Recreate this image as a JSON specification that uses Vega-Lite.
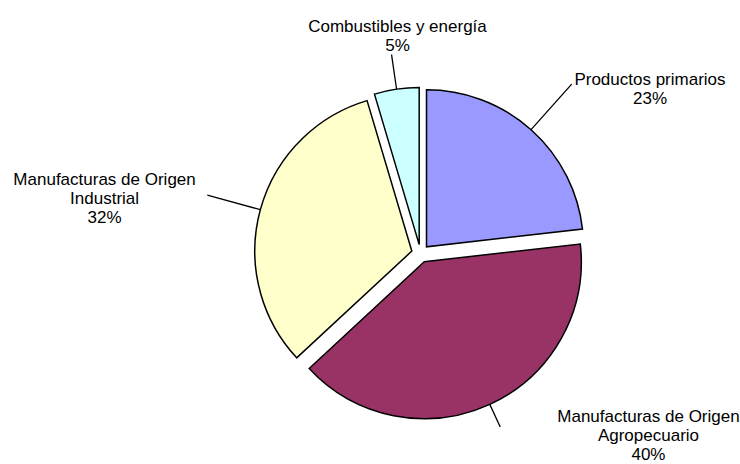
{
  "$schema": "https://vega.github.io/schema/vega-lite/v6.json",
  "width": 639,
  "height": 421,
  "autosize": {"type": "none"},
  "padding": {"left": 101, "top": 43, "right": 0, "bottom": 0},
  "background": "white",
  "config": {"view": {"stroke": null}, "text": {"font": "Liberation Sans", "fontSize": 17, "color": "black"}},
  "data": {
    "values": [
      {"k": 1, "cat": "Productos primarios", "value": 23.2, "label": ["Productos primarios", "23%"]},
      {"k": 2, "cat": "Manufacturas de Origen Agropecuario", "value": 39.9, "label": ["Manufacturas de Origen", "Agropecuario", "40%"]},
      {"k": 3, "cat": "Manufacturas de Origen Industrial", "value": 32.3, "label": ["Manufacturas de Origen", "Industrial", "32%"]},
      {"k": 4, "cat": "Combustibles y energía", "value": 4.6, "label": ["Combustibles y energía", "5%"]}
    ]
  },
  "transform": [
    {"stack": "value", "groupby": [], "sort": [{"field": "k", "order": "ascending"}], "as": ["v0", "v1"]},
    {"calculate": "(datum.v0 + datum.v1) / 2", "as": "mid"}
  ],
  "layer": [
    {
      "transform": [{"filter": "datum.k == 1"}],
      "layer": [
        {"mark": {"type": "arc", "radius": 157, "fill": "#9999FF", "stroke": "black", "strokeWidth": 1.5, "xOffset": 6, "yOffset": -6.7},
         "encoding": {"theta": {"field": "v0", "type": "quantitative", "scale": {"domain": [0, 100]}}, "theta2": {"field": "v1"}}},
        {"mark": {"type": "arc", "radius": 218, "radius2": 157, "fill": "black", "stroke": "black", "strokeWidth": 1.3, "xOffset": 6, "yOffset": -6.7},
         "encoding": {"theta": {"field": "mid", "type": "quantitative", "scale": {"domain": [0, 100]}}, "theta2": {"field": "mid"}}},
        {"mark": {"type": "text", "radius": 230, "dx": 76.3, "dy": 3.1, "align": "center", "baseline": "alphabetic", "lineHeight": 19},
         "encoding": {"theta": {"field": "mid", "type": "quantitative", "scale": {"domain": [0, 100]}}, "text": {"field": "label"}}}
      ]
    },
    {
      "transform": [{"filter": "datum.k == 2"}],
      "layer": [
        {"mark": {"type": "arc", "radius": 157, "fill": "#993366", "stroke": "black", "strokeWidth": 1.5, "xOffset": 3.8, "yOffset": 8.2},
         "encoding": {"theta": {"field": "v0", "type": "quantitative", "scale": {"domain": [0, 100]}}, "theta2": {"field": "v1"}}},
        {"mark": {"type": "arc", "radius": 182, "radius2": 157, "fill": "black", "stroke": "black", "strokeWidth": 1.3, "xOffset": 3.8, "yOffset": 8.2},
         "encoding": {"theta": {"field": "mid", "type": "quantitative", "scale": {"domain": [0, 100]}}, "theta2": {"field": "mid"}}},
        {"mark": {"type": "text", "radius": 190, "dx": 148.7, "dy": -4, "align": "center", "baseline": "alphabetic", "lineHeight": 19},
         "encoding": {"theta": {"field": "mid", "type": "quantitative", "scale": {"domain": [0, 100]}}, "text": {"field": "label"}}}
      ]
    },
    {
      "transform": [{"filter": "datum.k == 3"}],
      "layer": [
        {"mark": {"type": "arc", "radius": 157, "fill": "#FFFFCC", "stroke": "black", "strokeWidth": 1.5, "xOffset": -8.7, "yOffset": -2.4},
         "encoding": {"theta": {"field": "v0", "type": "quantitative", "scale": {"domain": [0, 100]}}, "theta2": {"field": "v1"}}},
        {"mark": {"type": "arc", "radius": 212, "radius2": 157, "fill": "black", "stroke": "black", "strokeWidth": 1.3, "xOffset": -8.7, "yOffset": -2.4},
         "encoding": {"theta": {"field": "mid", "type": "quantitative", "scale": {"domain": [0, 100]}}, "theta2": {"field": "mid"}}},
        {"mark": {"type": "text", "radius": 230, "dx": -94.1, "dy": -7.8, "align": "center", "baseline": "alphabetic", "lineHeight": 19},
         "encoding": {"theta": {"field": "mid", "type": "quantitative", "scale": {"domain": [0, 100]}}, "text": {"field": "label"}}}
      ]
    },
    {
      "transform": [{"filter": "datum.k == 4"}],
      "layer": [
        {"mark": {"type": "arc", "radius": 157, "fill": "#CCFFFF", "stroke": "black", "strokeWidth": 1.5, "xOffset": -1.3, "yOffset": -8.9},
         "encoding": {"theta": {"field": "v0", "type": "quantitative", "scale": {"domain": [0, 100]}}, "theta2": {"field": "v1"}}},
        {"mark": {"type": "arc", "radius": 192, "radius2": 157, "fill": "black", "stroke": "black", "strokeWidth": 1.3, "xOffset": -1.3, "yOffset": -8.9},
         "encoding": {"theta": {"field": "mid", "type": "quantitative", "scale": {"domain": [0, 100]}}, "theta2": {"field": "mid"}}},
        {"mark": {"type": "text", "radius": 230, "dx": 10.1, "dy": 6.1, "align": "center", "baseline": "alphabetic", "lineHeight": 19},
         "encoding": {"theta": {"field": "mid", "type": "quantitative", "scale": {"domain": [0, 100]}}, "text": {"field": "label"}}}
      ]
    }
  ]
}
